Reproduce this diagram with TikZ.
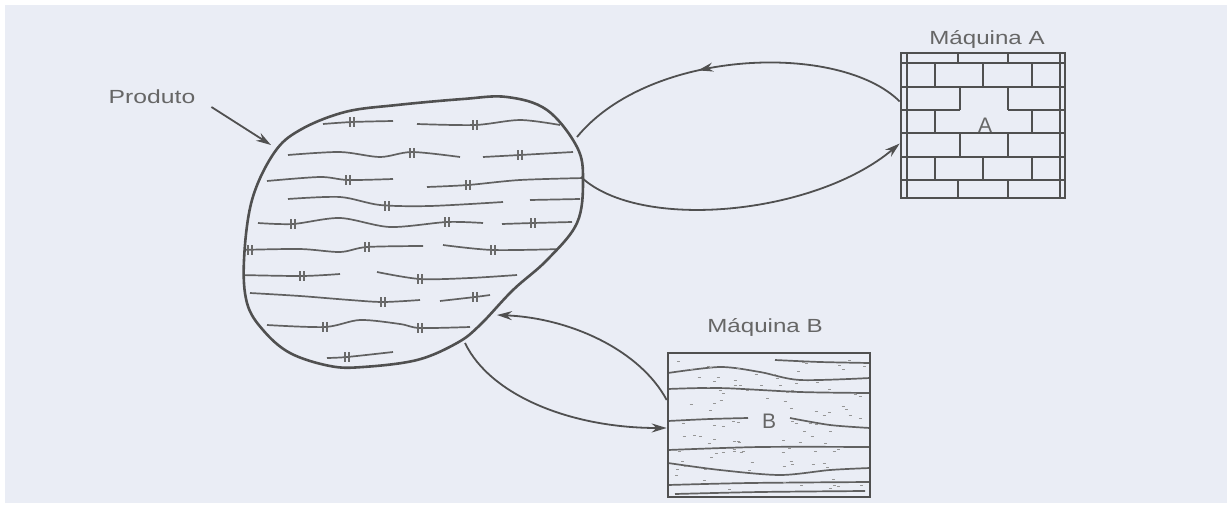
\documentclass[tikz,border=0pt]{standalone}
\usepackage{graphicx}
\usepackage{fontspec}
\setmainfont{Liberation Sans}
\usetikzlibrary{arrows.meta,decorations.markings}
\definecolor{paper}{HTML}{EAEDF5}
\definecolor{ink}{HTML}{505050}
\definecolor{txt}{HTML}{666666}

\tikzset{
  outline/.style={draw=ink, line width=2.6pt},
  hatch/.style={draw=ink!90, line width=1.7pt},
  brick/.style={draw=ink, line width=1.5pt},
  flow/.style={draw=ink, line width=1.8pt},
  tip/.style={-{Stealth[length=15pt,width=9pt]}},
  midtip/.style={postaction=decorate, decoration={markings,
      mark=at position #1 with {\arrow{Stealth[length=15pt,width=9pt]}}}},
  caption/.style={text=txt, font=\fontsize{19}{22}\selectfont, inner sep=0pt},
  machine/.style={draw=ink, line width=2.6pt, rectangle, inner sep=0pt},
  letter/.style={text=txt, font=\fontsize{21}{24}\selectfont, inner sep=1pt},
  grainmark/.style={draw=ink!85, line width=1.1pt},
}

\begin{document}
\begin{tikzpicture}[x=1pt, y=-1pt]
  % sheet
  \fill[white] (0,0) rectangle (1231,506);
  \fill[paper] (5,5) rectangle (1227,503);
  \useasboundingbox (0,0) rectangle (1231,506);

  % ---------- product ----------
  \begin{scope}
    \clip plot[smooth cycle, tension=0.6] coordinates {
      (300,130) (345,112) (397,105) (463,99) (507,97) (547,110) (577,147) (583,180)
      (577,223) (547,260) (513,290) (480,325) (457,343) (417,360) (363,367)
      (330,366) (290,353) (263,330) (247,303) (244,260) (252,200) (274,153)};
    \draw[hatch] plot[smooth] coordinates {(323,124) (352,122) (393,121)};
    \draw[hatch] plot[smooth] coordinates {(417,124) (475,125) (520,120) (560,125)};
    \draw[hatch] plot[smooth] coordinates {(288,155) (340,152) (380,157) (412,152) (460,157)};
    \draw[hatch] plot[smooth] coordinates {(483,157) (520,155) (573,152)};
    \draw[hatch] plot[smooth] coordinates {(267,181) (320,177) (348,180) (393,179)};
    \draw[hatch] plot[smooth] coordinates {(427,187) (468,185) (520,180) (585,178)};
    \draw[hatch] plot[smooth] coordinates {(288,199) (340,197) (380,205) (430,206) (503,202)};
    \draw[hatch] plot[smooth] coordinates {(530,200) (580,199)};
    \draw[hatch] plot[smooth] coordinates {(258,223) (293,224) (340,218) (390,227) (447,222) (483,223)};
    \draw[hatch] plot[smooth] coordinates {(502,224) (533,223) (572,222)};
    \draw[hatch] plot[smooth] coordinates {(240,250) (300,249) (340,252) (367,247) (423,246)};
    \draw[hatch] plot[smooth] coordinates {(443,245) (493,250) (563,249)};
    \draw[hatch] plot[smooth] coordinates {(240,275) (302,276) (340,274)};
    \draw[hatch] plot[smooth] coordinates {(377,272) (420,279) (470,278) (517,275)};
    \draw[hatch] plot[smooth] coordinates {(250,293) (300,296) (350,300) (383,302) (420,300)};
    \draw[hatch] plot[smooth] coordinates {(440,301) (475,297) (490,295)};
    \draw[hatch] plot[smooth] coordinates {(267,325) (325,327) (360,320) (400,324) (420,328) (470,327)};
    \draw[hatch] plot[smooth] coordinates {(327,358) (347,357) (393,352)};
    % small double strokes across the grain lines
    \foreach \gx/\gy in {352/122,475/125,412/153,520/155,348/180,468/185,
                         387/206,293/224,447/222,533/223,250/250,367/247,
                         493/250,302/276,420/279,383/302,475/297,325/327,
                         420/328,347/357}
      {\draw[grainmark] (\gx-2,\gy-5) -- (\gx-2,\gy+5)
                        (\gx+2,\gy-5) -- (\gx+2,\gy+5);}
  \end{scope}
  \draw[outline] plot[smooth cycle, tension=0.6] coordinates {
      (300,130) (345,112) (397,105) (463,99) (507,97) (547,110) (577,147) (583,180)
      (577,223) (547,260) (513,290) (480,325) (457,343) (417,360) (363,367)
      (330,366) (290,353) (263,330) (247,303) (244,260) (252,200) (274,153)};

  % points on the product outline where the flows meet it
  \coordinate (pr-nw)  at (271,145);
  \coordinate (pr-a1)  at (577,137);
  \coordinate (pr-a2)  at (581,177);
  \coordinate (pr-b1)  at (497,315);
  \coordinate (pr-b2)  at (465,343);

  \node[caption] (prod) at (152,97) {\scalebox{1.3}[1]{Produto}};
  \draw[flow, tip] ([xshift=16pt,yshift=-10pt]prod.east) -- (pr-nw);

  % ---------- machine A (brickwork) ----------
  \node[machine, minimum width=164pt, minimum height=145pt] (mA) at (983,125.5) {};
  \draw[brick] (907,53) -- (907,198) (1060,53) -- (1060,198);
  \draw[brick] (901,63) -- (1065,63) (901,87) -- (1065,87)
               (901,110) -- (960,110) (1008,110) -- (1065,110)
               (901,133) -- (1065,133) (901,157) -- (1065,157)
               (901,180) -- (1065,180);
  \draw[brick] (958,53) -- (958,63) (1008,53) -- (1008,63);
  \draw[brick] (935,63) -- (935,87) (983,63) -- (983,87) (1032,63) -- (1032,87);
  \draw[brick] (960,87) -- (960,110) (1008,87) -- (1008,110);
  \draw[brick] (935,110) -- (935,133) (1032,110) -- (1032,133);
  \draw[brick] (960,133) -- (960,157) (1008,133) -- (1008,157);
  \draw[brick] (935,157) -- (935,180) (983,157) -- (983,180) (1032,157) -- (1032,180);
  \draw[brick] (958,180) -- (958,198) (1008,180) -- (1008,198);
  \node[machine, minimum width=164pt, minimum height=145pt] at (mA) {};
  \node[letter] (lA) at (985,125) {A};
  \node[caption] (capA) at (987,39) {\scalebox{1.27}[1]{Máquina A}};

  % ---------- machine B (grain) ----------
  \node[machine, minimum width=202pt, minimum height=144pt] (mB) at (769,425) {};
  \begin{scope}
    \clip (669,354) rectangle (869,496);
    \draw[hatch] plot[smooth] coordinates {(668,373) (720,367) (760,372) (800,380) (870,378)};
    \draw[hatch] plot[smooth] coordinates {(775,360) (820,362) (870,363)};
    \draw[hatch] plot[smooth] coordinates {(668,389) (720,388) (800,392) (870,393)};
    \draw[hatch] plot[smooth] coordinates {(668,421) (710,419) (748,418)};
    \draw[hatch] plot[smooth] coordinates {(790,418) (830,425) (870,428)};
    \draw[hatch] plot[smooth] coordinates {(668,450) (760,447) (870,447)};
    \draw[hatch] plot[smooth] coordinates {(668,463) (720,470) (780,475) (830,470) (870,468)};
    \draw[hatch] plot[smooth] coordinates {(668,485) (750,483) (870,482)};
    \draw[hatch] plot[smooth] coordinates {(675,494) (760,492) (865,491)};
    \pgfmathsetseed{11}
    \foreach \i in {1,...,110} {
      \pgfmathsetmacro\px{675+190*rnd}
      \pgfmathsetmacro\py{360+132*rnd}
      \draw[ink!60, line width=1pt] (\px,\py) -- ++(3,0);
    }
  \end{scope}
  \node[machine, minimum width=202pt, minimum height=144pt] at (mB) {};
  \fill[paper] (760,408) rectangle (780,434);
  \node[letter] (lB) at (769,421) {B};
  \node[caption] (capB) at (765,327) {\scalebox{1.27}[1]{Máquina B}};

  % ---------- flows ----------
  \draw[flow, midtip=0.6] ([yshift=24pt]mA.west)
      .. controls (840,42) and (650,48) .. (pr-a1);
  \draw[flow, tip] (pr-a2)
      .. controls (640,232) and (815,215) .. ([yshift=-18pt]mA.west);
  \draw[flow, tip] ([yshift=25pt]mB.west)
      .. controls (640,350) and (570,318) .. (pr-b1);
  \draw[flow, tip] (pr-b2)
      .. controls (490,395) and (570,428) .. ([yshift=-3pt]mB.west);
\end{tikzpicture}
\end{document}
